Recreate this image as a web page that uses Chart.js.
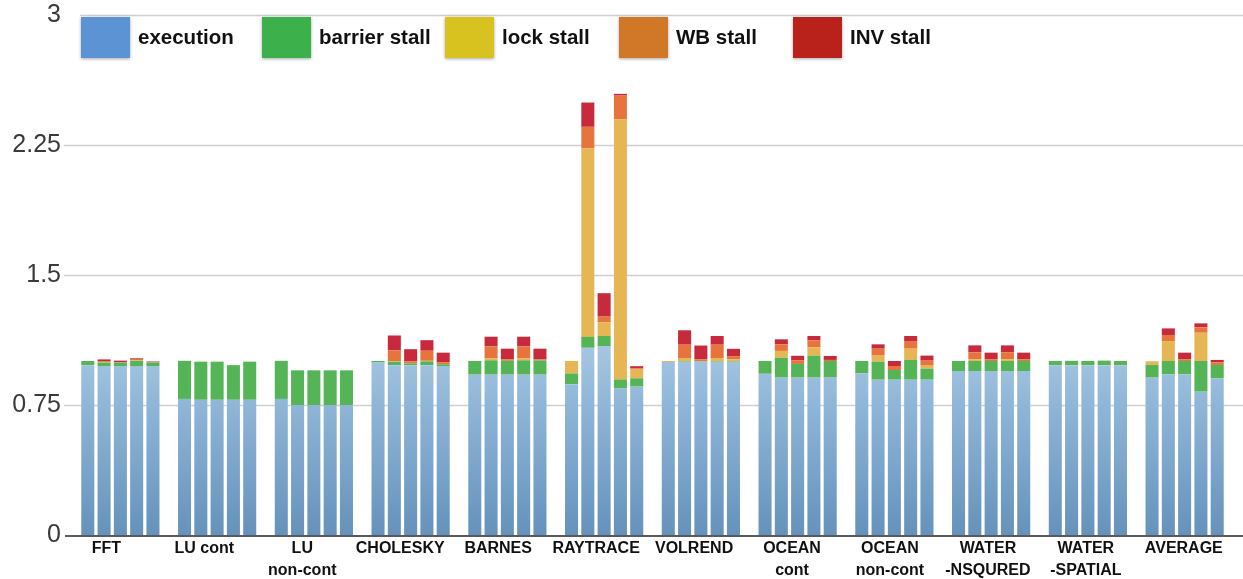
<!DOCTYPE html>
<html>
<head>
<meta charset="utf-8">
<script src="https://cdn.jsdelivr.net/npm/chart.js@4/dist/chart.umd.min.js"></script>
<style>
  html, body { margin: 0; padding: 0; background: #fff; }
  canvas { display: block; }
</style>
</head>
<body>
<canvas id="c" width="1243" height="579"></canvas>
<script>
// Benchmarks on the x axis (multi-line names as arrays)
const categories = [
  'FFT', 'LU cont', ['LU', 'non-cont'], 'CHOLESKY', 'BARNES', 'RAYTRACE',
  'VOLREND', ['OCEAN', 'cont'], ['OCEAN', 'non-cont'], ['WATER', '-NSQURED'],
  ['WATER', '-SPATIAL'], 'AVERAGE'
];

// Normalized time components: one row per benchmark, five configurations per row
const execution = [
  [0.98, 0.975, 0.975, 0.975, 0.975],
  [0.785, 0.78, 0.78, 0.78, 0.78],
  [0.785, 0.75, 0.75, 0.75, 0.75],
  [0.995, 0.98, 0.98, 0.98, 0.975],
  [0.925, 0.925, 0.925, 0.925, 0.925],
  [0.87, 1.08, 1.09, 0.846, 0.856],
  [0.998, 1.0, 1.0, 1.0, 1.0],
  [0.93, 0.908, 0.908, 0.908, 0.908],
  [0.933, 0.896, 0.896, 0.896, 0.896],
  [0.946, 0.946, 0.946, 0.946, 0.946],
  [0.98, 0.98, 0.98, 0.98, 0.98],
  [0.908, 0.927, 0.927, 0.827, 0.904]
];
const barrierStall = [
  [0.024, 0.02, 0.02, 0.03, 0.02],
  [0.22, 0.22, 0.22, 0.2, 0.22],
  [0.22, 0.2, 0.2, 0.2, 0.2],
  [0.009, 0.02, 0.01, 0.022, 0.01],
  [0.079, 0.083, 0.08, 0.083, 0.082],
  [0.062, 0.063, 0.058, 0.052, 0.048],
  [0, 0.004, 0.003, 0.004, 0.004],
  [0.074, 0.115, 0.079, 0.127, 0.096],
  [0.071, 0.104, 0.056, 0.114, 0.064],
  [0.058, 0.058, 0.058, 0.058, 0.058],
  [0.024, 0.025, 0.024, 0.026, 0.024],
  [0.073, 0.077, 0.077, 0.177, 0.077]
];
const lockStall = [
  [0, 0.003, 0, 0.003, 0],
  [0, 0, 0, 0, 0],
  [0, 0, 0, 0, 0],
  [0, 0.003, 0, 0.003, 0],
  [0, 0.01, 0, 0.01, 0],
  [0.072, 1.087, 0.08, 1.5, 0.05],
  [0.006, 0.017, 0, 0.017, 0.01],
  [0, 0.039, 0, 0.048, 0],
  [0, 0.035, 0, 0.065, 0.017],
  [0, 0.01, 0, 0.01, 0],
  [0, 0, 0, 0, 0],
  [0.019, 0.115, 0, 0.163, 0]
];
const wbStall = [
  [0, 0.005, 0.003, 0.008, 0.003],
  [0, 0, 0, 0, 0],
  [0, 0, 0, 0, 0],
  [0, 0.063, 0.012, 0.058, 0.012],
  [0, 0.07, 0.008, 0.07, 0.006],
  [0, 0.125, 0.032, 0.137, 0.008],
  [0, 0.077, 0.01, 0.077, 0.018],
  [0, 0.038, 0.02, 0.04, 0.006],
  [0, 0.04, 0.023, 0.044, 0.029],
  [0, 0.04, 0.01, 0.04, 0.01],
  [0, 0, 0, 0, 0],
  [0.002, 0.035, 0.01, 0.031, 0.015]
];
const invStall = [
  [0, 0.01, 0.008, 0.004, 0.003],
  [0, 0, 0, 0, 0],
  [0, 0, 0, 0, 0],
  [0, 0.085, 0.07, 0.061, 0.055],
  [0, 0.056, 0.062, 0.056, 0.062],
  [0, 0.14, 0.135, 0.01, 0.012],
  [0, 0.083, 0.08, 0.05, 0.042],
  [0, 0.029, 0.027, 0.025, 0.023],
  [0, 0.025, 0.029, 0.029, 0.029],
  [0, 0.04, 0.038, 0.04, 0.038],
  [0, 0, 0, 0, 0],
  [0, 0.038, 0.038, 0.023, 0.014]
];

const yTicks = [0, 0.75, 1.5, 2.25, 3];

// Components, bottom of the stack first
const components = [
  { label: 'execution',     values: execution,    legend: '#5b93d5', bar: 'blue' },
  { label: 'barrier stall', values: barrierStall, legend: '#3cb04a', bar: '#55b455' },
  { label: 'lock stall',    values: lockStall,    legend: '#d8c21f', bar: '#e6b655' },
  { label: 'WB stall',      values: wbStall,      legend: '#d07828', bar: '#e6743c' },
  { label: 'INV stall',     values: invStall,     legend: '#b8221a', bar: '#c72a3c' }
];

const configCount = 5;
const FONT = '"Liberation Sans", Arial, Helvetica, sans-serif';

function blueFill(ctx) {
  const chart = ctx.chart;
  const area = chart.chartArea;
  if (!area) return '#7fa9cd';
  const y = chart.scales.y;
  const g = chart.ctx.createLinearGradient(0, y.getPixelForValue(1.1), 0, y.getPixelForValue(0));
  g.addColorStop(0, '#a6c7e2');
  g.addColorStop(0.35, '#8db4d6');
  g.addColorStop(1, '#6592bb');
  return g;
}

const datasets = [];
components.forEach(comp => {
  for (let j = 0; j < configCount; j++) {
    datasets.push({
      label: comp.label,
      data: categories.map((_, i) => comp.values[i][j]),
      stack: 'cfg' + j,
      backgroundColor: comp.bar === 'blue' ? blueFill : comp.bar,
      borderWidth: 0,
      categoryPercentage: 0.842,
      barPercentage: 0.8
    });
  }
});

// Background grid lines, bottom axis line, category names and legend
const gridPlugin = {
  id: 'gridLines',
  beforeDatasetsDraw(chart) {
    const { ctx, scales: { y } } = chart;
    ctx.save();
    ctx.strokeStyle = '#cfcfcf';
    ctx.lineWidth = 1.5;
    y.ticks.forEach(t => {
      if (t.value === 0) return;
      const py = Math.round(y.getPixelForValue(t.value)) + 0.5;
      ctx.beginPath();
      ctx.moveTo(t.value === 3 ? 80 : 64, py);
      ctx.lineTo(chart.width, py);
      ctx.stroke();
    });
    ctx.restore();
  },
  afterDatasetsDraw(chart) {
    const { ctx, scales: { x, y } } = chart;
    ctx.save();
    // zero axis line
    const py0 = y.getPixelForValue(0);
    ctx.strokeStyle = '#5a5a5a';
    ctx.lineWidth = 2;
    ctx.beginPath();
    ctx.moveTo(65, py0 + 1);
    ctx.lineTo(chart.width, py0 + 1);
    ctx.stroke();

    // category labels
    ctx.fillStyle = '#111';
    ctx.font = 'bold 16px ' + FONT;
    ctx.textAlign = 'center';
    ctx.textBaseline = 'middle';
    categories.forEach((lab, i) => {
      const cx = x.getPixelForValue(i) + (1.2 * i - 14);
      const lines = Array.isArray(lab) ? lab : [lab];
      lines.forEach((ln, k) => {
        ctx.fillText(ln, cx, py0 + 14 + k * 22);
      });
    });

    // legend
    const legendX = [81, 262, 445, 619, 793];
    ctx.font = 'bold 20.5px ' + FONT;
    ctx.textAlign = 'left';
    components.forEach((comp, k) => {
      const bx = legendX[k];
      ctx.save();
      ctx.shadowColor = 'rgba(0,0,0,0.35)';
      ctx.shadowBlur = 3;
      ctx.shadowOffsetY = 1;
      ctx.fillStyle = comp.legend;
      ctx.fillRect(bx, 17, 49, 41);
      ctx.restore();
      ctx.fillStyle = '#111';
      ctx.fillText(comp.label, bx + 57, 38);
    });
    ctx.restore();
  }
};

new Chart(document.getElementById('c'), {
  type: 'bar',
  data: { labels: categories.map(c => Array.isArray(c) ? c.join(' ') : c), datasets },
  options: {
    responsive: false,
    devicePixelRatio: 1,
    animation: false,
    layout: { padding: { top: 15, right: 10, bottom: 44, left: 0 } },
    plugins: { legend: { display: false }, tooltip: { enabled: false } },
    scales: {
      x: {
        stacked: true,
        grid: { display: false },
        border: { display: false },
        ticks: { display: false },
        afterFit(scale) { scale.height = 0; scale.paddingLeft = 0; scale.paddingRight = 0; }
      },
      y: {
        stacked: true,
        min: 0,
        max: 3,
        afterBuildTicks(scale) { scale.ticks = yTicks.map(v => ({ value: v })); },
        grid: { display: false, drawTicks: false },
        border: { display: false },
        ticks: {
          padding: 11,
          color: '#3a3a3a',
          font: { family: FONT, size: 25 },
          callback: v => String(v)
        },
        afterFit(scale) { scale.width = 72; scale.paddingTop = 0; scale.paddingBottom = 0; }
      }
    }
  },
  plugins: [gridPlugin]
});
</script>
</body>
</html>
